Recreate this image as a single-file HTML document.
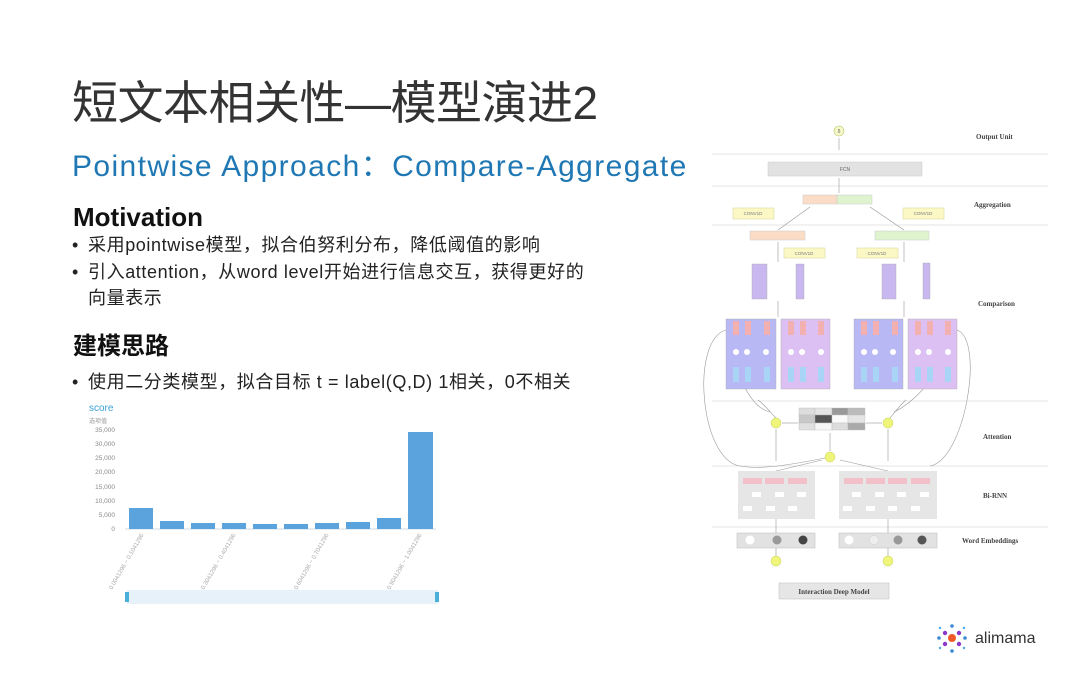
<!DOCTYPE html>
<html><head><meta charset="utf-8">
<style>
body{margin:0;width:1080px;height:677px;background:#fff;overflow:hidden;position:relative;font-family:"Liberation Sans","Noto Sans CJK SC",sans-serif;}
.a{position:absolute;white-space:nowrap;}
.t{left:72px;top:76px;font-size:46px;color:#333;letter-spacing:-0.5px;line-height:54px;}
.s{left:72px;top:148px;font-size:30px;color:#1f78b4;line-height:38px;letter-spacing:1.4px;}
.h{left:73px;font-size:24px;font-weight:bold;color:#111;line-height:30px;}
.b{left:72px;font-size:18px;color:#222;line-height:24px;letter-spacing:0.6px;}
.b span{display:inline-block;width:16px;}
</style></head><body>
<div class="a t">短文本相关性—模型演进2</div>
<div class="a s">Pointwise Approach：Compare-Aggregate</div>
<div class="a h" style="top:202px;font-size:26px">Motivation</div>
<div class="a b" style="top:233px"><span>•</span>采用pointwise模型，拟合伯努利分布，降低阈值的影响</div>
<div class="a b" style="top:260px"><span>•</span>引入attention，从word level开始进行信息交互，获得更好的</div>
<div class="a b" style="top:286px"><span></span>向量表示</div>
<div class="a h" style="top:332px">建模思路</div>
<div class="a b" style="top:370px"><span>•</span>使用二分类模型，拟合目标 t = label(Q,D)  1相关，0不相关</div>

<svg class="a" style="left:0;top:0" width="1080" height="677" font-family="Liberation Sans, sans-serif">
<!-- chart -->
<text x="89" y="411" font-size="10" fill="#3aa0d8">score</text>
<text x="89" y="423" font-size="6" fill="#999">选项值</text>
<g font-size="6.5" fill="#888" text-anchor="end">
<text x="115" y="432">35,000</text><text x="115" y="446">30,000</text><text x="115" y="460">25,000</text><text x="115" y="474">20,000</text><text x="115" y="489">15,000</text><text x="115" y="503">10,000</text><text x="115" y="517">5,000</text><text x="115" y="531">0</text>
</g>
<line x1="125" y1="529" x2="436" y2="529" stroke="#cfd8e0"/>
<g fill="#5ba3dc">
<rect x="129" y="508" width="24" height="21"/>
<rect x="160" y="521" width="24" height="8"/>
<rect x="191" y="523" width="24" height="6"/>
<rect x="222" y="523" width="24" height="6"/>
<rect x="253" y="524" width="24" height="5"/>
<rect x="284" y="524" width="24" height="5"/>
<rect x="315" y="523" width="24" height="6"/>
<rect x="346" y="522" width="24" height="7"/>
<rect x="377" y="518" width="24" height="11"/>
<rect x="408" y="432" width="25" height="97"/>
</g>
<g font-size="6" fill="#aaa">
<text transform="translate(112,590) rotate(-60)">0.0041296 ~ 0.1041296</text>
<text transform="translate(204,590) rotate(-60)">0.3041296 ~ 0.4041296</text>
<text transform="translate(297,590) rotate(-60)">0.6041296 ~ 0.7041296</text>
<text transform="translate(390,590) rotate(-60)">0.9041296 ~ 1.0041296</text>
</g>
<rect x="127" y="590" width="311" height="14" fill="#e6f1fa"/>
<rect x="125" y="592" width="4" height="10" fill="#4ab0d8"/>
<rect x="435" y="592" width="4" height="10" fill="#4ab0d8"/>

<!-- diagram -->
<g stroke="#e4e4e4" stroke-width="1">
<line x1="712" y1="154" x2="1048" y2="154"/><line x1="712" y1="186" x2="1048" y2="186"/>
<line x1="712" y1="225" x2="1048" y2="225"/><line x1="712" y1="401" x2="1048" y2="401"/>
<line x1="712" y1="466" x2="1048" y2="466"/><line x1="712" y1="527" x2="1048" y2="527"/>
</g>
<g font-family="Liberation Serif, serif" font-weight="bold" font-size="7" fill="#444">
<text x="976" y="139">Output Unit</text><text x="974" y="207">Aggregation</text>
<text x="978" y="306">Comparison</text><text x="983" y="439">Attention</text>
<text x="983" y="498">Bi-RNN</text><text x="962" y="543">Word Embeddings</text>
</g>
<circle cx="839" cy="131" r="5" fill="#f5f8c8" stroke="#bcc46a" stroke-width="0.6"/>
<text x="839" y="133" font-size="5" fill="#666" text-anchor="middle">δ</text>
<g stroke="#999" stroke-width="0.6" fill="none">
<line x1="839" y1="138" x2="839" y2="150"/><line x1="839" y1="178" x2="839" y2="193"/>
<line x1="778" y1="230" x2="810" y2="207"/><line x1="904" y1="230" x2="870" y2="207"/>
<line x1="778" y1="262" x2="778" y2="242"/><line x1="904" y1="262" x2="904" y2="242"/>
<line x1="778" y1="317" x2="778" y2="301"/><line x1="904" y1="317" x2="904" y2="301"/>
<line x1="776" y1="461" x2="776" y2="429"/><line x1="888" y1="461" x2="888" y2="429"/>
<line x1="776" y1="471" x2="822" y2="460"/><line x1="888" y1="471" x2="840" y2="460"/>
<line x1="776" y1="519" x2="776" y2="533"/><line x1="888" y1="519" x2="888" y2="533"/>
<line x1="776" y1="548" x2="776" y2="556"/><line x1="888" y1="548" x2="888" y2="556"/>
<line x1="830" y1="451" x2="830" y2="433"/><line x1="798" y1="423" x2="782" y2="423"/><line x1="866" y1="423" x2="882" y2="423"/>
<path d="M726 330 C690 340 700 460 740 466 C760 470 790 465 830 457"/>
<path d="M957 330 C985 340 965 460 930 466"/>
<path d="M770 412 C740 405 730 340 726 330"/>
<path d="M894 412 C920 400 950 360 957 330"/>
<path d="M758 400 C765 405 770 412 776 418"/><path d="M906 400 C900 405 895 412 890 418"/>
</g>
<rect x="768" y="162" width="154" height="14" fill="#e2e2e2" stroke="#ccc" stroke-width="0.5"/>
<text x="845" y="171" font-size="5" fill="#666" text-anchor="middle">FCN</text>
<rect x="803" y="195" width="34" height="9" fill="#fbdcc6" stroke="#ccc" stroke-width="0.5"/>
<rect x="837" y="195" width="35" height="9" fill="#dff3cf" stroke="#ccc" stroke-width="0.5"/>
<g fill="#fbf8c6" stroke="#d8d490" stroke-width="0.5">
<rect x="733" y="208" width="41" height="11"/><rect x="903" y="208" width="41" height="11"/>
<rect x="784" y="248" width="41" height="10"/><rect x="857" y="248" width="41" height="10"/>
</g>
<g font-size="4.5" fill="#777" text-anchor="middle">
<text x="753" y="215">CONV1D</text><text x="923" y="215">CONV1D</text>
<text x="804" y="255">CONV1D</text><text x="877" y="255">CONV1D</text>
</g>
<rect x="750" y="231" width="55" height="9" fill="#fbdcc6" stroke="#ccc" stroke-width="0.5"/>
<rect x="875" y="231" width="54" height="9" fill="#dff3cf" stroke="#ccc" stroke-width="0.5"/>
<g fill="#c9b8f0" stroke="#aaa" stroke-width="0.4">
<rect x="752" y="264" width="15" height="35"/><rect x="796" y="264" width="8" height="35"/>
<rect x="882" y="264" width="14" height="35"/><rect x="923" y="263" width="7" height="36"/>
</g>
<g fill="#b8b8f5" stroke="#aaa" stroke-width="0.4">
<rect x="726" y="319" width="50" height="70"/><rect x="854" y="319" width="49" height="70"/>
</g>
<g fill="#dcc0f3" stroke="#aaa" stroke-width="0.4">
<rect x="781" y="319" width="49" height="70"/><rect x="908" y="319" width="49" height="70"/>
</g>
<g fill="#f3b0b0">
<rect x="733" y="321" width="6" height="14"/><rect x="745" y="321" width="6" height="14"/><rect x="764" y="321" width="6" height="14"/>
<rect x="788" y="321" width="6" height="14"/><rect x="800" y="321" width="6" height="14"/><rect x="818" y="321" width="6" height="14"/>
<rect x="861" y="321" width="6" height="14"/><rect x="873" y="321" width="6" height="14"/><rect x="892" y="321" width="6" height="14"/>
<rect x="915" y="321" width="6" height="14"/><rect x="927" y="321" width="6" height="14"/><rect x="945" y="321" width="6" height="14"/>
</g>
<g fill="#a8d4f5">
<rect x="733" y="367" width="6" height="15"/><rect x="745" y="367" width="6" height="15"/><rect x="764" y="367" width="6" height="15"/>
<rect x="788" y="367" width="6" height="15"/><rect x="800" y="367" width="6" height="15"/><rect x="818" y="367" width="6" height="15"/>
<rect x="861" y="367" width="6" height="15"/><rect x="873" y="367" width="6" height="15"/><rect x="892" y="367" width="6" height="15"/>
<rect x="915" y="367" width="6" height="15"/><rect x="927" y="367" width="6" height="15"/><rect x="945" y="367" width="6" height="15"/>
</g>
<g fill="#fff">
<circle cx="736" cy="352" r="3"/><circle cx="747" cy="352" r="3"/><circle cx="766" cy="352" r="3"/>
<circle cx="791" cy="352" r="3"/><circle cx="802" cy="352" r="3"/><circle cx="821" cy="352" r="3"/>
<circle cx="864" cy="352" r="3"/><circle cx="875" cy="352" r="3"/><circle cx="893" cy="352" r="3"/>
<circle cx="918" cy="352" r="3"/><circle cx="929" cy="352" r="3"/><circle cx="948" cy="352" r="3"/>
</g>
<g stroke="#bbb" stroke-width="0.4">
<rect x="799" y="408" width="16" height="7" fill="#ddd"/><rect x="815" y="408" width="17" height="7" fill="#e4e4e4"/><rect x="832" y="408" width="16" height="7" fill="#999"/><rect x="848" y="408" width="17" height="7" fill="#bbb"/>
<rect x="799" y="415" width="16" height="8" fill="#c8c8c8"/><rect x="815" y="415" width="17" height="8" fill="#555"/><rect x="832" y="415" width="16" height="8" fill="#fafafa"/><rect x="848" y="415" width="17" height="8" fill="#e4e4e4"/>
<rect x="799" y="423" width="16" height="7" fill="#e0e0e0"/><rect x="815" y="423" width="17" height="7" fill="#f6f6f6"/><rect x="832" y="423" width="16" height="7" fill="#ddd"/><rect x="848" y="423" width="17" height="7" fill="#aaa"/>
</g>
<g fill="#eef57a" stroke="#c8d050" stroke-width="0.5">
<circle cx="776" cy="423" r="5"/><circle cx="888" cy="423" r="5"/><circle cx="830" cy="457" r="5"/>
<circle cx="776" cy="561" r="5"/><circle cx="888" cy="561" r="5"/>
</g>
<rect x="738" y="471" width="77" height="48" fill="#e6e6e6"/><rect x="839" y="471" width="98" height="48" fill="#e6e6e6"/>
<g fill="#f2c0c8">
<rect x="743" y="478" width="19" height="6"/><rect x="765" y="478" width="19" height="6"/><rect x="788" y="478" width="19" height="6"/>
<rect x="844" y="478" width="19" height="6"/><rect x="866" y="478" width="19" height="6"/><rect x="888" y="478" width="19" height="6"/><rect x="911" y="478" width="19" height="6"/>
</g>
<g fill="#fff">
<rect x="752" y="492" width="9" height="5"/><rect x="775" y="492" width="9" height="5"/><rect x="797" y="492" width="9" height="5"/>
<rect x="743" y="506" width="9" height="5"/><rect x="766" y="506" width="9" height="5"/><rect x="788" y="506" width="9" height="5"/>
<rect x="852" y="492" width="9" height="5"/><rect x="875" y="492" width="9" height="5"/><rect x="897" y="492" width="9" height="5"/><rect x="920" y="492" width="9" height="5"/>
<rect x="843" y="506" width="9" height="5"/><rect x="866" y="506" width="9" height="5"/><rect x="888" y="506" width="9" height="5"/><rect x="911" y="506" width="9" height="5"/>
</g>
<rect x="737" y="533" width="78" height="15" fill="#e2e2e2" stroke="#bbb" stroke-width="0.5"/>
<rect x="839" y="533" width="98" height="15" fill="#e2e2e2" stroke="#bbb" stroke-width="0.5"/>
<circle cx="750" cy="540" r="4.5" fill="#fff"/><circle cx="777" cy="540" r="4.5" fill="#999"/><circle cx="803" cy="540" r="4.5" fill="#444"/>
<circle cx="849" cy="540" r="4.5" fill="#fff"/><circle cx="874" cy="540" r="4.5" fill="#eee" stroke="#ccc" stroke-width="0.4"/><circle cx="898" cy="540" r="4.5" fill="#999"/><circle cx="922" cy="540" r="4.5" fill="#555"/>
<rect x="779" y="583" width="110" height="16" fill="#e6e6e6" stroke="#bbb" stroke-width="0.5"/>
<text x="834" y="594" font-family="Liberation Serif, serif" font-weight="bold" font-size="7" fill="#444" text-anchor="middle">Interaction Deep Model</text>

<g>
<circle cx="952" cy="638" r="4" fill="#f05a28"/>
<circle cx="945" cy="633" r="2.2" fill="#8a3ac8"/><circle cx="959" cy="633" r="2.2" fill="#8a3ac8"/>
<circle cx="945" cy="644" r="2.2" fill="#8a3ac8"/><circle cx="959" cy="644" r="2.2" fill="#8a3ac8"/>
<circle cx="952" cy="626" r="1.8" fill="#3a8ad8"/><circle cx="952" cy="651" r="1.8" fill="#3a8ad8"/>
<circle cx="939" cy="638" r="1.8" fill="#3a8ad8"/><circle cx="965" cy="638" r="1.8" fill="#3a8ad8"/>
<circle cx="940" cy="628" r="1.2" fill="#4aa8e0"/><circle cx="964" cy="628" r="1.2" fill="#4aa8e0"/>
<circle cx="940" cy="648" r="1.2" fill="#4aa8e0"/><circle cx="964" cy="648" r="1.2" fill="#4aa8e0"/>
</g>
<text x="975" y="643" font-size="16" fill="#333">alimama</text>
</svg>
</body></html>
